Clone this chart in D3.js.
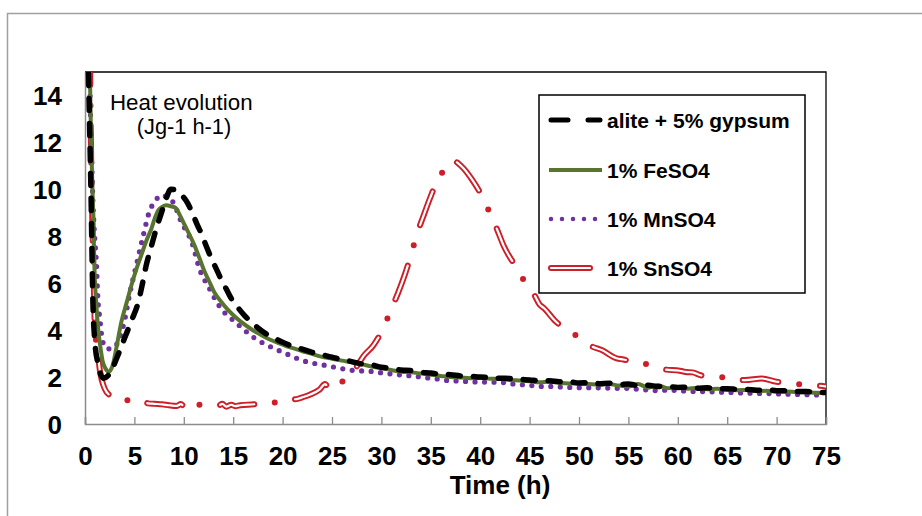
<!DOCTYPE html>
<html><head><meta charset="utf-8">
<script src="https://cdn.jsdelivr.net/npm/d3@7"></script>
<style>
html,body{margin:0;padding:0;background:#fff;}
svg{display:block;font-family:"Liberation Sans",Arial,sans-serif;}
</style></head>
<body><svg id="chart" width="922" height="516"></svg>
<script>
// ---- data ----
const seriesNames = ["alite + 5% gypsum", "1% FeSO4", "1% MnSO4", "1% SnSO4"];
const xTicks = [0,5,10,15,20,25,30,35,40,45,50,55,60,65,70,75];
const yTicks = [0,2,4,6,8,10,12,14];
const alite = [[0.3,16],[0.45,13],[0.6,10],[0.8,5.2],[1.0,3.5],[1.3,2.6],[1.6,2.1],[1.9,1.95],[2.3,2.05],[2.8,2.4],[3.4,3.0],[4.0,3.65],[4.7,4.4],[5.4,5.2],[5.8,5.95],[6.2,6.77],[6.7,7.55],[7.2,8.3],[7.7,8.95],[8.2,9.6],[8.7,10.0],[9.1,9.98],[9.6,9.8],[10.0,9.65],[10.4,9.4],[10.9,8.95],[11.4,8.45],[11.8,8.1],[12.3,7.55],[12.8,7.05],[13.3,6.6],[13.8,6.15],[14.3,5.75],[14.8,5.35],[15.5,4.95],[16.2,4.6],[16.8,4.35],[17.5,4.1],[18.3,3.85],[19.2,3.65],[20.0,3.48],[21.0,3.32],[21.9,3.2],[23,3.05],[24,2.95],[25,2.85],[26,2.74],[27,2.66],[28,2.56],[29,2.52],[30,2.42],[31,2.38],[32,2.3],[33,2.28],[34,2.2],[35,2.17],[36,2.12],[37,2.1],[38,2.05],[39,2.03],[40,2.0],[41,1.98],[42,1.95],[43,1.94],[44,1.9],[45,1.88],[46,1.84],[47,1.84],[48,1.8],[49,1.8],[50,1.75],[51,1.76],[52,1.72],[53,1.74],[54,1.68],[55,1.7],[56,1.64],[57,1.65],[58,1.6],[59,1.6],[60,1.56],[61,1.57],[62,1.52],[63,1.54],[64,1.5],[65,1.5],[66,1.48],[67,1.47],[68,1.44],[69,1.45],[70,1.42],[71,1.41],[72,1.38],[73,1.38],[74,1.35],[75,1.34]];
const feso4 = [[0.45,16],[0.6,12.5],[0.81,9.2],[0.98,6.3],[1.15,5.1],[1.3,4.2],[1.55,3.3],[1.8,2.65],[2.1,2.35],[2.4,2.23],[2.8,2.5],[3.2,3.3],[3.68,4.35],[4.2,5.15],[4.69,5.9],[5.2,6.6],[5.7,7.2],[6.2,7.8],[6.7,8.3],[7.05,8.75],[7.4,9.1],[7.8,9.25],[8.2,9.32],[8.7,9.28],[9.2,9.2],[9.6,8.9],[10.1,8.47],[10.6,8.05],[11.1,7.6],[11.6,7.05],[12.1,6.5],[12.6,6.05],[13.1,5.6],[13.8,5.2],[14.5,4.85],[15.1,4.6],[15.8,4.35],[16.8,4.05],[17.8,3.8],[18.7,3.6],[19.6,3.45],[20.5,3.3],[21.3,3.2],[22,3.1],[22.7,3.02],[23.9,2.87],[25,2.78],[26,2.7],[27,2.63],[28,2.55],[29,2.45],[30,2.38],[31,2.3],[32,2.23],[33,2.2],[34,2.15],[35,2.1],[36,2.05],[37,2.0],[38,1.98],[39,1.95],[40,1.96],[41,1.93],[42,1.92],[43,1.88],[44,1.85],[45,1.82],[46,1.78],[47,1.8],[48,1.76],[49,1.73],[50,1.72],[51,1.7],[52,1.68],[53,1.7],[54,1.64],[55,1.6],[56,1.7],[57,1.55],[58,1.65],[59,1.52],[60,1.58],[61,1.5],[62,1.54],[63,1.48],[64,1.5],[65,1.46],[66,1.44],[67,1.45],[68,1.4],[69,1.42],[70,1.38],[71,1.38],[72,1.36],[73,1.35],[74,1.33],[75,1.32]];
const mnso4 = [[0.4,16],[0.6,12.5],[0.8,9.5],[1.0,7.8],[1.15,6.9],[1.3,5.35],[1.5,4.5],[1.8,3.5],[2.3,3.2],[3.0,3.3],[3.7,3.9],[4.1,4.6],[4.5,5.5],[5.2,6.77],[5.9,8.04],[6.5,9.03],[7.1,9.5],[7.7,9.74],[8.3,9.68],[8.9,9.46],[9.3,9.1],[9.75,8.6],[10.3,8.2],[10.8,7.76],[11.6,6.6],[12.6,5.77],[13.2,5.3],[13.8,4.9],[14.5,4.6],[15.2,4.35],[16.2,3.98],[17.2,3.65],[18.5,3.35],[19.9,3.08],[21,2.88],[21.9,2.72],[23,2.6],[24.3,2.5],[25.5,2.4],[26.8,2.3],[28,2.26],[29,2.24],[30,2.18],[31,2.13],[32,2.09],[33,2.05],[34,2.0],[35,1.95],[36,1.9],[37,1.84],[38,1.83],[39,1.8],[40,1.79],[41,1.78],[42,1.78],[43,1.72],[44,1.68],[45,1.65],[46,1.6],[47,1.6],[48,1.58],[49,1.56],[50,1.55],[51,1.55],[52,1.54],[53,1.53],[54,1.52],[55,1.52],[56,1.48],[57,1.45],[58,1.42],[59,1.45],[60,1.42],[61,1.4],[62,1.38],[63,1.38],[64,1.36],[65,1.35],[66,1.33],[67,1.32],[68,1.3],[69,1.3],[70,1.28],[71,1.27],[72,1.26],[73,1.25],[74,1.24],[75,1.23]];
const snso4 = [[0.5,16],[0.6,12],[0.7,9.5],[0.8,7.5],[0.9,5.8],[1.0,4.1],[1.25,3.2],[1.5,2.3],[2.0,1.5],[2.6,1.2],[3.2,1.09],[3.6,1.12],[4.0,1.0],[4.4,1.02],[4.8,0.95],[5.2,0.92],[5.6,0.86],[6.0,0.93],[6.4,0.88],[7.0,0.86],[7.8,0.84],[8.5,0.8],[9.3,0.77],[9.7,0.85],[10.1,0.72],[10.5,0.88],[10.9,0.74],[11.3,0.8],[12.3,0.84],[13.5,0.78],[13.9,0.86],[14.3,0.74],[14.8,0.82],[15.2,0.76],[15.7,0.8],[17.3,0.85],[18.6,0.98],[19.2,0.92],[19.8,1.02],[20.4,0.98],[21.0,1.05],[21.4,1.06],[22.1,1.15],[22.8,1.26],[23.7,1.45],[24.3,1.7],[24.6,1.6],[24.9,1.75],[25.2,1.62],[25.9,1.76],[27.0,2.2],[27.5,2.45],[28.2,2.9],[29.2,3.36],[30.2,4.09],[31.0,4.9],[31.7,5.6],[32.4,6.4],[33.0,7.2],[33.6,8.1],[34.2,8.8],[34.9,9.6],[35.7,10.4],[36.3,10.8],[36.8,11.06],[37.3,11.23],[37.8,11.1],[38.3,10.9],[39.2,10.4],[40.15,9.74],[41.0,8.97],[41.7,8.3],[42.4,7.57],[43.5,6.77],[44.4,6.13],[45.0,5.7],[45.4,5.55],[46.0,5.1],[46.5,4.92],[47.5,4.43],[49.1,3.93],[49.8,3.75],[50.5,3.55],[51.2,3.33],[52.3,3.15],[53.8,2.8],[54.5,2.75],[55.3,2.68],[56.0,2.7],[56.8,2.55],[57.5,2.5],[58.6,2.33],[60.2,2.27],[60.8,2.22],[61.5,2.2],[62.2,2.09],[63.5,1.99],[64.7,1.99],[65.4,2.0],[66.0,1.9],[66.8,1.87],[68.5,1.94],[70.0,1.8],[70.8,1.78],[71.8,1.74],[72.7,1.66],[74.7,1.62],[75,1.6]];

// ---- layout ----
const svg = d3.select("#chart");
const L = 85, R = 826, T = 72, B = 424;
const x = d3.scaleLinear().domain([0,75]).range([L,R]);
const y = d3.scaleLinear().domain([0,15]).range([B,T]);
const FONT = '"Liberation Sans",Arial,sans-serif';

// outer chart border
svg.append("rect").attr("x",7.5).attr("y",13.5).attr("width",1000).attr("height",600)
  .attr("fill","none").attr("stroke","#a0a0a0").attr("stroke-width",1.5);

// plot border (top/right black)
svg.append("path").attr("d",`M${L},${T}H${R}V${B}`).attr("fill","none").attr("stroke","#000").attr("stroke-width",1.3);

svg.append("clipPath").attr("id","clip").append("rect").attr("x",L).attr("y",T).attr("width",R-L).attr("height",B-T);

// axes
const xAxis = d3.axisBottom(x).tickValues(xTicks).tickSize(-7).tickPadding(20).tickFormat(d3.format("d"));
const gx = svg.append("g").attr("transform",`translate(0,${B})`).call(xAxis);
gx.select(".domain").attr("stroke","#8c8c8c").attr("stroke-width",1.5);
gx.selectAll(".tick line").attr("stroke","#8c8c8c").attr("stroke-width",1.3);
gx.selectAll("text").attr("font-family",FONT).attr("font-size",26).attr("font-weight","bold").attr("fill","#000").attr("dy","0.71em").attr("y",23);

const yAxis = d3.axisLeft(y).tickValues(yTicks).tickSize(0).tickPadding(23).tickFormat(d3.format("d"));
const gy = svg.append("g").attr("transform",`translate(${L},0)`).call(yAxis);
gy.select(".domain").attr("stroke","#8c8c8c").attr("stroke-width",1.5);
gy.selectAll("text").attr("font-family",FONT).attr("font-size",26).attr("font-weight","bold").attr("fill","#000").attr("dy","0.36em");

svg.append("text").attr("x",500).attr("y",494).attr("text-anchor","middle")
  .attr("font-family",FONT).attr("font-size",26).attr("font-weight","bold").text("Time (h)");

// annotation
svg.append("text").attr("x",110).attr("y",110).attr("font-family",FONT).attr("font-size",22.3).text("Heat evolution");
svg.append("text").attr("x",184).attr("y",134).attr("text-anchor","middle").attr("font-family",FONT).attr("font-size",21.8).text("(Jg-1 h-1)");

// lines
const line = d3.line().x(d=>x(d[0])).y(d=>y(d[1])).curve(d3.curveMonotoneX);
const plot = svg.append("g").attr("clip-path","url(#clip)");

const RED = "#cc1f28", GREEN = "#587530", PURPLE = "#7030a0";
// SnSO4 : hollow dash-dot line
plot.append("path").datum(snso4).attr("d",line).attr("fill","none").attr("stroke",RED)
  .attr("stroke-width",6).attr("stroke-linecap","round").attr("stroke-linejoin","round").attr("stroke-dasharray","36,21,0,21");
plot.append("path").datum(snso4).attr("d",line).attr("fill","none").attr("stroke","#fff")
  .attr("stroke-width",2.2).attr("stroke-linecap","round").attr("stroke-linejoin","round").attr("stroke-dasharray","36,42");
// MnSO4 dotted
plot.append("path").datum(mnso4).attr("d",line).attr("fill","none").attr("stroke",PURPLE)
  .attr("stroke-width",5.2).attr("stroke-linecap","round").attr("stroke-dasharray","0,9.5");
// FeSO4 solid
plot.append("path").datum(feso4).attr("d",line).attr("fill","none").attr("stroke",GREEN)
  .attr("stroke-width",4).attr("stroke-linejoin","round");
// alite dashed
plot.append("path").datum(alite).attr("d",line).attr("fill","none").attr("stroke","#000")
  .attr("stroke-width",5.5).attr("stroke-linecap","round").attr("stroke-dasharray","12,13");

// legend
const lg = svg.append("g");
lg.append("rect").attr("x",539).attr("y",95).attr("width",266).attr("height",198)
  .attr("fill","#fff").attr("stroke","#000").attr("stroke-width",1.5);
const rows = [120,170,219,268];
rows.forEach((ry,i)=>{
  lg.append("text").attr("x",607).attr("y",ry).attr("dy","0.36em").attr("font-family",FONT)
    .attr("font-size",21).attr("font-weight","bold").text(seriesNames[i]);
});
lg.append("line").attr("x1",551).attr("x2",600).attr("y1",rows[0]).attr("y2",rows[0])
  .attr("stroke","#000").attr("stroke-width",5).attr("stroke-linecap","round").attr("stroke-dasharray","17,20");
lg.append("line").attr("x1",549).attr("x2",602).attr("y1",rows[1]).attr("y2",rows[1])
  .attr("stroke",GREEN).attr("stroke-width",4);
lg.append("line").attr("x1",551).attr("x2",596).attr("y1",rows[2]).attr("y2",rows[2])
  .attr("stroke",PURPLE).attr("stroke-width",4.5).attr("stroke-linecap","round").attr("stroke-dasharray","0,11");
lg.append("line").attr("x1",551).attr("x2",590).attr("y1",rows[3]).attr("y2",rows[3])
  .attr("stroke",RED).attr("stroke-width",6).attr("stroke-linecap","round");
lg.append("line").attr("x1",551).attr("x2",590).attr("y1",rows[3]).attr("y2",rows[3])
  .attr("stroke","#fff").attr("stroke-width",2.2).attr("stroke-linecap","round");
</script></body></html>
